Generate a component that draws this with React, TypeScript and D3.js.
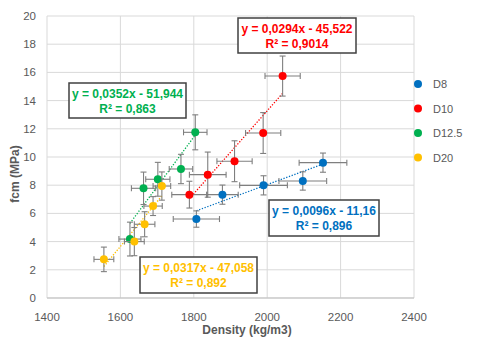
import React from "react";
import * as d3 from "d3";

// series data
const seriesNames = ["D8", "D10", "D12.5", "D20"];
const seriesColors = ["#0070C0", "#FF0000", "#00B050", "#FFC000"];

const d8Density = [1807, 1878, 1990, 2097, 2152];
const d8Fcm = [5.6, 7.33, 7.99, 8.3, 9.6];
const d8DensityErr = [63, 43, 65, 65, 65];
const d8FcmErr = [0.58, 0.68, 0.68, 0.65, 0.68];

const d10Density = [1788, 1838, 1911, 1989, 2042];
const d10Fcm = [7.33, 8.75, 9.7, 11.7, 15.74];
const d10DensityErr = [48, 50, 48, 48, 48];
const d10FcmErr = [0.95, 1.6, 1.45, 1.45, 1.42];

const d125Density = [1626, 1663, 1702, 1765, 1804];
const d125Fcm = [4.18, 7.78, 8.42, 9.15, 11.75];
const d125DensityErr = [30, 33, 33, 32, 32];
const d125FcmErr = [1.2, 1.15, 1.2, 1.04, 1.24];

const d20Density = [1555, 1638, 1666, 1689, 1713];
const d20Fcm = [2.74, 4.0, 5.23, 6.52, 7.94];
const d20DensityErr = [27, 27, 28, 25, 24];
const d20FcmErr = [0.87, 1.0, 0.89, 0.67, 1.0];

// trendline coefficients (from the labels)
const slopes = [0.0096, 0.0294, 0.0352, 0.0317];
const intercepts = [-11.16, -45.522, -51.944, -47.058];
const eqLabels = [
  "y = 0,0096x - 11,16",
  "y = 0,0294x - 45,522",
  "y = 0,0352x - 51,944",
  "y = 0,0317x - 47,058",
];
const r2Labels = ["R² = 0,896", "R² = 0,9014", "R² = 0,863", "R² = 0,892"];

const xTicks = [1400, 1600, 1800, 2000, 2200, 2400];
const yTicks = [0, 2, 4, 6, 8, 10, 12, 14, 16, 18, 20];

const width = 480;
const height = 348;

// label box positions (pixels)
const boxes = [
  { x: 269, y: 200, w: 110, h: 36 },
  { x: 238, y: 18, w: 118, h: 35 },
  { x: 69, y: 83, w: 117, h: 35 },
  { x: 140, y: 257, w: 117, h: 36 },
];

const App = () => {
  const x = d3.scaleLinear().domain([1400, 2400]).range([47, 414]);
  const y = d3.scaleLinear().domain([0, 20]).range([298, 16]);

  const series = [
    { d: d8Density, f: d8Fcm, dx: d8DensityErr, dy: d8FcmErr },
    { d: d10Density, f: d10Fcm, dx: d10DensityErr, dy: d10FcmErr },
    { d: d125Density, f: d125Fcm, dx: d125DensityErr, dy: d125FcmErr },
    { d: d20Density, f: d20Fcm, dx: d20DensityErr, dy: d20FcmErr },
  ];

  const line = d3
    .line<number>()
    .x((v) => x(v))
    .y((v, i) => 0);

  const grey = "#595959";
  const errColor = "#7f7f7f";
  const cap = 3;

  return (
    <svg
      width={width}
      height={height}
      style={{ position: "absolute", left: 0, top: 0, background: "#fff" }}
      fontFamily="'Liberation Sans', Arial, sans-serif"
    >
      {/* grid */}
      {yTicks.map((t) => (
        <line key={"gy" + t} x1={x(1400)} x2={x(2400)} y1={y(t)} y2={y(t)} stroke="#d9d9d9" strokeWidth={1} />
      ))}
      {xTicks.map((t) => (
        <line key={"gx" + t} x1={x(t)} x2={x(t)} y1={y(0)} y2={y(20)} stroke="#d9d9d9" strokeWidth={1} />
      ))}
      <line x1={x(1400)} x2={x(2400)} y1={y(0)} y2={y(0)} stroke="#bfbfbf" strokeWidth={1} />

      {/* tick labels */}
      {yTicks.map((t) => (
        <text key={"ty" + t} x={36} y={y(t) + 4} textAnchor="end" fontSize={11.5} fill={grey}>
          {t}
        </text>
      ))}
      {xTicks.map((t) => (
        <text key={"tx" + t} x={x(t)} y={321} textAnchor="middle" fontSize={11.5} fill={grey}>
          {t}
        </text>
      ))}
      <text x={247} y={334} textAnchor="middle" fontSize={12} fontWeight="bold" fill={grey}>
        Density (kg/m3)
      </text>
      <text
        transform={`translate(19,174) rotate(-90)`}
        textAnchor="middle"
        fontSize={12}
        fontWeight="bold"
        fill={grey}
      >
        fcm (MPa)
      </text>

      {/* trendlines */}
      {series.map((s, si) => {
        const lo = d3.min(s.d) as number;
        const hi = d3.max(s.d) as number;
        const path = d3
          .line<number>()
          .x((v) => x(v))
          .y((v) => y(slopes[si] * v + intercepts[si]))([lo, hi]);
        return (
          <path
            key={"tr" + si}
            d={path || ""}
            fill="none"
            stroke={seriesColors[si]}
            strokeWidth={1.3}
            strokeDasharray="1.3 1.6"
          />
        );
      })}

      {/* error bars + points */}
      {series.map((s, si) => (
        <g key={"s" + si}>
          {s.d.map((dv, i) => {
            const cx = x(dv);
            const cy = y(s.f[i]);
            const x0 = x(dv - s.dx[i]);
            const x1 = x(dv + s.dx[i]);
            const y0 = y(s.f[i] - s.dy[i]);
            const y1 = y(s.f[i] + s.dy[i]);
            return (
              <g key={i} stroke={errColor} strokeWidth={1.1}>
                <line x1={x0} x2={x1} y1={cy} y2={cy} />
                <line x1={x0} x2={x0} y1={cy - cap} y2={cy + cap} />
                <line x1={x1} x2={x1} y1={cy - cap} y2={cy + cap} />
                <line x1={cx} x2={cx} y1={y0} y2={y1} />
                <line x1={cx - cap} x2={cx + cap} y1={y0} y2={y0} />
                <line x1={cx - cap} x2={cx + cap} y1={y1} y2={y1} />
              </g>
            );
          })}
          {s.d.map((dv, i) => (
            <circle key={"p" + i} cx={x(dv)} cy={y(s.f[i])} r={4} fill={seriesColors[si]} />
          ))}
        </g>
      ))}

      {/* equation boxes */}
      {boxes.map((b, i) => (
        <g key={"b" + i}>
          <rect x={b.x} y={b.y} width={b.w} height={b.h} fill="#fff" stroke="#404040" strokeWidth={1.5} />
          <text
            x={b.x + b.w / 2}
            y={b.y + 14.5}
            textAnchor="middle"
            fontSize={12}
            fontWeight="bold"
            fill={seriesColors[i]}
          >
            {eqLabels[i]}
          </text>
          <text
            x={b.x + b.w / 2}
            y={b.y + 30}
            textAnchor="middle"
            fontSize={12}
            fontWeight="bold"
            fill={seriesColors[i]}
          >
            {r2Labels[i]}
          </text>
        </g>
      ))}

      {/* legend */}
      {seriesNames.map((n, i) => (
        <g key={"l" + n} transform={`translate(418,${84 + i * 24.5})`}>
          <circle r={4} fill={seriesColors[i]} />
          <text x={15} y={4} fontSize={11} fill={grey}>
            {n}
          </text>
        </g>
      ))}
    </svg>
  );
};

export default App;
